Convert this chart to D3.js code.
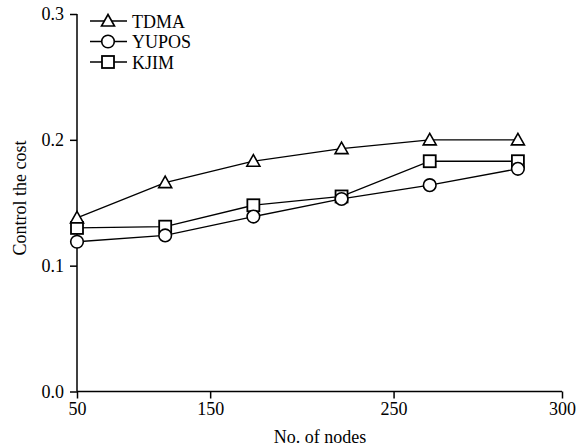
<!DOCTYPE html>
<html>
<head>
<meta charset="utf-8">
<script src="https://cdn.jsdelivr.net/npm/d3@7"></script>
<style>
  body { margin: 0; background: #fff; }
  text { font-family: "Liberation Serif", "Times New Roman", serif; fill: #000; }
</style>
</head>
<body>
<div id="chart"></div>
<script>
// point index along the x axis (the original axis is not linear in node count)
var pointIdx = [0, 1, 2, 3, 4, 5];
var tdma  = [0.138, 0.166, 0.183, 0.193, 0.200, 0.200];
var yupos = [0.119, 0.124, 0.139, 0.153, 0.164, 0.177];
var kjim  = [0.130, 0.131, 0.148, 0.155, 0.183, 0.183];
var xTickPos = [0, 1.51, 3.59, 5.5];
var xTickLabels = ["50", "150", "250", "300"];
var yTicks = [0.0, 0.1, 0.2, 0.3];

var series = [
    { name: "TDMA", values: tdma, marker: "triangle" },
    { name: "YUPOS", values: yupos, marker: "circle" },
    { name: "KJIM", values: kjim, marker: "square" }
];

var w = 576, h = 448;
var svg = d3.select("#chart").append("svg").attr("width", w).attr("height", h);

var x = d3.scaleLinear().domain([0, 5.5]).range([77, 562]);
var y = d3.scaleLinear().domain([0, 0.3]).range([391.5, 14]);

// axes
var xAxis = d3.axisBottom(x).tickValues(xTickPos)
    .tickFormat(function (d, i) { return xTickLabels[i]; })
    .tickSize(7).tickPadding(4);
var yAxis = d3.axisLeft(y).tickValues(yTicks)
    .tickFormat(d3.format(".1f")).tickSize(7).tickPadding(6);

var gx = svg.append("g").attr("transform", "translate(0," + y(0) + ")").call(xAxis);
var gy = svg.append("g").attr("transform", "translate(" + x(0) + ",0)").call(yAxis);

[gx, gy].forEach(function (g) {
    g.select(".domain").attr("stroke", "#000").attr("stroke-width", 1.5);
    g.selectAll(".tick line").attr("stroke", "#000").attr("stroke-width", 1.5);
    g.selectAll(".tick text").style("font-size", "18px")
        .style("font-family", "'Liberation Serif', serif").attr("fill", "#000");
});
// plain axis lines, no outer end caps
gx.select(".domain").attr("d", "M" + x(0) + ",0H" + x(5.5));
gy.select(".domain").attr("d", "M0," + y(0.3) + "V" + y(0));

// lines
var line = d3.line()
    .x(function (d, i) { return x(pointIdx[i]); })
    .y(function (d) { return y(d); });

series.forEach(function (s) {
    svg.append("path").datum(s.values)
        .attr("fill", "none").attr("stroke", "#000").attr("stroke-width", 1.3)
        .attr("d", line);
});

function drawMarker(g, type, cx, cy) {
    if (type == "triangle") {
        g.append("path")
            .attr("d", "M" + cx + "," + (cy - 6.5) + "L" + (cx + 6.5) + "," + (cy + 5) + "L" + (cx - 6.5) + "," + (cy + 5) + "Z")
            .attr("fill", "#fff").attr("stroke", "#000").attr("stroke-width", 1.6);
    } else if (type == "circle") {
        g.append("circle").attr("cx", cx).attr("cy", cy).attr("r", 6.3)
            .attr("fill", "#fff").attr("stroke", "#000").attr("stroke-width", 1.6);
    } else {
        g.append("rect").attr("x", cx - 6).attr("y", cy - 6).attr("width", 12).attr("height", 12)
            .attr("fill", "#fff").attr("stroke", "#000").attr("stroke-width", 1.8);
    }
}

// markers: squares first, then circles, triangles on top
var drawOrder = [series[2], series[1], series[0]];
drawOrder.forEach(function (s) {
    var g = svg.append("g");
    s.values.forEach(function (v, i) {
        drawMarker(g, s.marker, x(pointIdx[i]), y(v));
    });
});

// legend
var legend = svg.append("g");
series.forEach(function (s, i) {
    var ly = 21 + i * 20.5;
    legend.append("line").attr("x1", 90).attr("x2", 127).attr("y1", ly).attr("y2", ly)
        .attr("stroke", "#000").attr("stroke-width", 1.5);
    drawMarker(legend, s.marker, 108, ly);
    legend.append("text").attr("x", 132).attr("y", ly + 6.5)
        .style("font-size", "18px").text(s.name);
});

// axis titles
svg.append("text").attr("x", 320).attr("y", 443).attr("text-anchor", "middle")
    .style("font-size", "18px").text("No. of nodes");
svg.append("text").attr("transform", "translate(26,198) rotate(-90)")
    .attr("text-anchor", "middle").style("font-size", "18px").text("Control the cost");
</script>
</body>
</html>
